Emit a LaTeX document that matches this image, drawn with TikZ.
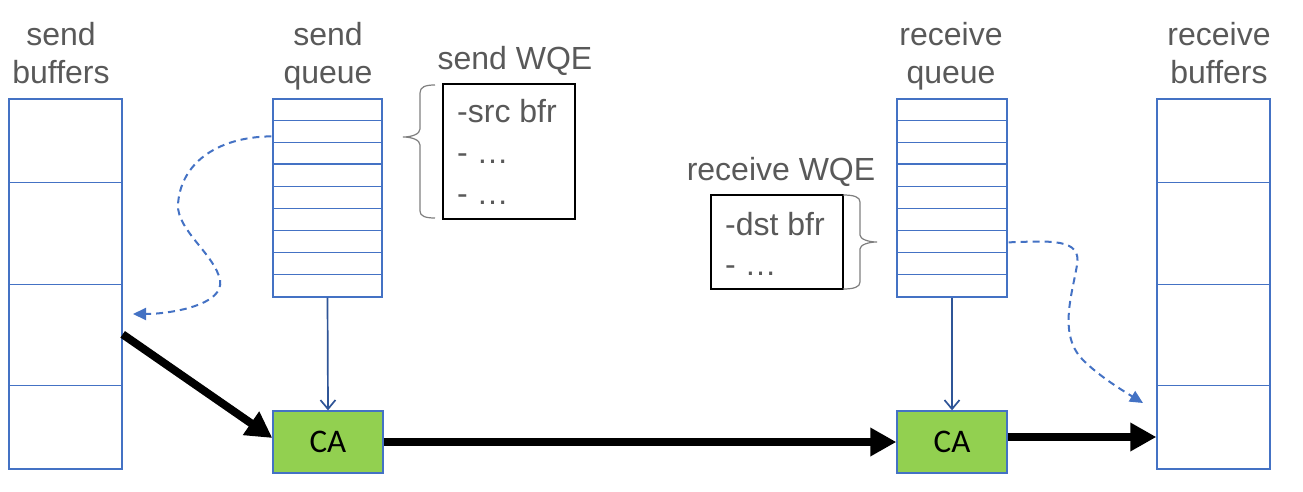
\documentclass[tikz,border=0pt]{standalone}
\usepackage{fontspec}
\setmainfont{Liberation Sans}
\newfontfamily\cafont{Carlito}
\usetikzlibrary{arrows.meta,calc}
\definecolor{bufblue}{HTML}{4472C4}
\definecolor{arrblue}{HTML}{2F5597}
\definecolor{txtgray}{HTML}{595959}
\definecolor{cagreen}{HTML}{92D050}
\definecolor{bracegray}{HTML}{7F7F7F}
\begin{document}
\begin{tikzpicture}[x=1pt,y=-1pt,
  lbl/.style={font=\fontsize{32}{38}\selectfont, text=txtgray, align=center, inner sep=0pt, anchor=north},
  wqetxt/.style={font=\fontsize{32}{38}\selectfont, text=txtgray, inner sep=0pt, anchor=base west},
  wqelbl/.style={font=\fontsize{32}{38}\selectfont, text=txtgray, inner sep=0pt, anchor=base},
  colbox/.style={draw=bufblue, line width=1.3pt, fill=white, inner sep=0pt},
  cellline/.style={draw=bufblue, line width=1.3pt},
  wqebox/.style={draw=black, line width=1.3pt, fill=white, inner sep=0pt},
  cabox/.style={draw=bufblue, line width=1.3pt, fill=cagreen, inner sep=0pt,
    minimum width=110pt, minimum height=62pt, font=\cafont\fontsize{33}{38}\selectfont},
  thick arrow/.style={draw=black, line width=8pt, -{Triangle[length=26pt,width=27pt]}},
  qarrow/.style={draw=arrblue, line width=1.7pt, -{Straight Barb[length=9pt,width=15pt]}},
  dasharrow/.style={draw=bufblue, line width=2pt, dash pattern=on 7pt off 5pt,
    -{Triangle[length=13pt,width=12pt]}},
  bracestyle/.style={draw=bracegray, line width=1.2pt}
]
\useasboundingbox (0,0) rectangle (1303,492);

% columns
\node[colbox, minimum width=113pt, minimum height=370pt] (sb) at (65.5,284) {};
\node[colbox, minimum width=109pt, minimum height=198pt] (sq) at (327.5,198) {};
\node[colbox, minimum width=110pt, minimum height=198pt] (rq) at (952,198) {};
\node[colbox, minimum width=113pt, minimum height=370pt] (rb) at (1213.5,284) {};

% buffer dividers
\foreach \o in {84,186,287}{
  \draw[cellline] ($(sb.north west)+(0,\o)$) -- ($(sb.north east)+(0,\o)$);
  \draw[cellline] ($(rb.north west)+(0,\o)$) -- ($(rb.north east)+(0,\o)$);
}
% queue dividers
\foreach \i in {1,...,8}{
  \draw[cellline] ($(sq.north west)+(0,\i*22)$) -- ($(sq.north east)+(0,\i*22)$);
  \draw[cellline] ($(rq.north west)+(0,\i*22)$) -- ($(rq.north east)+(0,\i*22)$);
}
\draw[cellline, line width=2pt] ($(sq.north west)+(0,66)$) -- ($(sq.north east)+(0,66)$);
\draw[cellline, line width=2pt] ($(rq.north west)+(0,66)$) -- ($(rq.north east)+(0,66)$);

% labels
\node[lbl] (sbl) at (61,22) {send\\buffers};
\node[lbl] (sql) at (328,22) {send\\queue};
\node[lbl] (rql) at (951,22) {receive\\queue};
\node[lbl] (rbl) at (1219,22) {receive\\buffers};

% WQE boxes
\node[wqelbl] (swl) at (515,70) {send WQE};
\node[wqebox, minimum width=132pt, minimum height=135pt] (sw) at (509,151.5) {};
\node[wqetxt] (sw1) at (457,123) {-src bfr};
\node[wqetxt] (sw2) at (457,164) {- \dots};
\node[wqetxt] (sw3) at (457,204) {- \dots};

\node[wqelbl] (rwl) at (781,180) {receive WQE};
\node[wqebox, minimum width=132pt, minimum height=94pt] (rw) at (777,242) {};
\node[wqetxt] (rw1) at (725,235) {-dst bfr};
\node[wqetxt] (rw2) at (725,275) {- \dots};

% braces
\draw[bracestyle] (435,85) .. controls (425,85) and (420,87) .. (420,93) -- (420,129)
  .. controls (420,134) and (412,137) .. (403,137)
  .. controls (412,137) and (420,140) .. (420,145) -- (420,211)
  .. controls (420,216) and (425,218) .. (435,218);
\draw[bracestyle] (843,195) .. controls (854,195) and (860,197) .. (860,202) -- (860,235)
  .. controls (860,239) and (868,242) .. (877,242)
  .. controls (868,242) and (860,245) .. (860,249) -- (860,282)
  .. controls (860,287) and (854,289) .. (843,289);

% CA boxes
\node[cabox] (sca) at (328,442) {CA};
\node[cabox] (rca) at (952,442) {CA};

% queue to CA
\draw[qarrow] (sq.south) -- (sca.north);
\draw[qarrow] (rq.south) -- (rca.north);

% thick data arrows
\coordinate (sbout) at ($(sb.north east)+(0,236)$);
\draw[thick arrow] (sbout) -- ($(sca.west)+(0,-4)$);
\draw[thick arrow] (sca.east) -- (rca.west);
\coordinate (rcaout) at ($(rca.east)+(0,-5)$);
\draw[thick arrow] (rcaout) -- (rcaout -| rb.west);

% dashed curves
\coordinate (sqw) at ($(sq.north west)+(-1,38)$);
\coordinate (sbin) at (133,314);
\draw[dasharrow] (sqw) .. controls (215,137) and (180,165) .. (178,205)
  .. controls (177,230) and (215,255) .. (220,280)
  .. controls (225,305) and (170,314) .. (sbin);
\coordinate (rqe) at ($(rq.north east)+(1,144)$);
\coordinate (rbin) at (1143,403);
\draw[dasharrow] (rqe) .. controls (1050,241) and (1082,238) .. (1077,265)
  .. controls (1072,295) and (1058,335) .. (1083,360)
  .. controls (1100,377) and (1125,392) .. (rbin);
\end{tikzpicture}
\end{document}
